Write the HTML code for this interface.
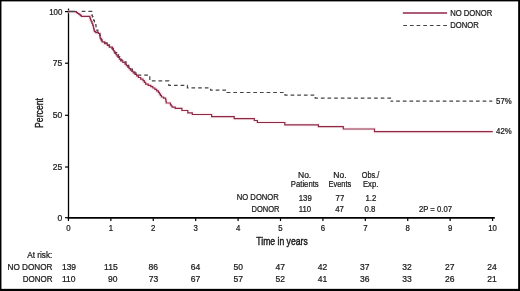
<!DOCTYPE html>
<html><head><meta charset="utf-8"><style>
html,body{margin:0;padding:0;background:#fff;}
svg{display:block;filter:blur(0.3px);}
text{font-family:"Liberation Sans",sans-serif;fill:#1a1a1a;stroke:#1a1a1a;stroke-width:0.24px;}
</style></head><body>
<svg width="520" height="291" viewBox="0 0 520 291">
<rect x="0" y="0" width="520" height="291" fill="#fff"/>
<line x1="68.5" y1="8.6" x2="68.5" y2="218.5" stroke="#000" stroke-width="1.3"/>
<line x1="67.7" y1="217.9" x2="494.8" y2="217.9" stroke="#000" stroke-width="1.6"/>
<line x1="65" y1="11.6" x2="68.3" y2="11.6" stroke="#000" stroke-width="1.2"/>
<line x1="65" y1="63.2" x2="68.3" y2="63.2" stroke="#000" stroke-width="1.2"/>
<line x1="65" y1="115.3" x2="68.3" y2="115.3" stroke="#000" stroke-width="1.2"/>
<line x1="65" y1="167.0" x2="68.3" y2="167.0" stroke="#000" stroke-width="1.2"/>
<line x1="65" y1="217.7" x2="68.3" y2="217.7" stroke="#000" stroke-width="1.2"/>
<line x1="68.45" y1="217.9" x2="68.45" y2="221" stroke="#000" stroke-width="1.2"/>
<line x1="110.86" y1="217.9" x2="110.86" y2="221" stroke="#000" stroke-width="1.2"/>
<line x1="153.27" y1="217.9" x2="153.27" y2="221" stroke="#000" stroke-width="1.2"/>
<line x1="195.68" y1="217.9" x2="195.68" y2="221" stroke="#000" stroke-width="1.2"/>
<line x1="238.09" y1="217.9" x2="238.09" y2="221" stroke="#000" stroke-width="1.2"/>
<line x1="280.50" y1="217.9" x2="280.50" y2="221" stroke="#000" stroke-width="1.2"/>
<line x1="322.91" y1="217.9" x2="322.91" y2="221" stroke="#000" stroke-width="1.2"/>
<line x1="365.32" y1="217.9" x2="365.32" y2="221" stroke="#000" stroke-width="1.2"/>
<line x1="407.73" y1="217.9" x2="407.73" y2="221" stroke="#000" stroke-width="1.2"/>
<line x1="450.14" y1="217.9" x2="450.14" y2="221" stroke="#000" stroke-width="1.2"/>
<line x1="492.55" y1="217.9" x2="492.55" y2="221" stroke="#000" stroke-width="1.2"/>
<path d="M68.00,11.60 H75.10 H76.40 V12.60 H77.70 V13.50 H79.00 V14.40 H80.20 V15.30 H81.30 V16.30 H89.30 H89.90 V18.15 H90.50 V20.00 H91.25 V21.70 H92.00 V23.40 H92.65 V25.20 H93.30 V27.00 H93.67 V28.53 H94.03 V30.07 H94.40 V31.60 H95.80 V32.70 H98.40 V33.50 H99.60 V34.50 H99.80 V35.77 H100.00 V37.03 H100.20 V38.30 H101.15 V40.10 H102.10 V41.90 H104.70 V43.70 H107.30 V45.50 H109.30 V47.10 H112.40 V49.10 H113.27 V50.50 H114.13 V51.90 H115.00 V53.30 H116.03 V54.67 H117.07 V56.03 H118.10 V57.40 H119.40 V59.15 H120.70 V60.90 H122.85 V62.50 H125.00 V64.10 H126.37 V65.63 H127.73 V67.17 H129.10 V68.70 H130.47 V70.07 H131.83 V71.43 H133.20 V72.80 H134.93 V74.37 H136.67 V75.93 H138.40 V77.50 H140.70 V79.05 H143.00 V80.60 H144.30 V82.40 H145.60 V84.20 H148.20 V85.45 H150.80 V86.70 H152.85 V88.00 H154.90 V89.30 H156.65 V90.85 H158.40 V92.40 H159.40 V93.93 H160.40 V95.47 H161.40 V97.00 H163.50 V98.20 H165.60 V99.40 H165.90 V101.20 H166.20 V103.00 H170.40 V104.80 H171.30 V106.00 H172.20 V107.20 H175.20 V108.40 H181.90 V110.50 H187.80 V112.90 H192.30 V114.50 H211.60 V116.70 H234.20 V118.60 H254.30 V120.50 H257.40 V122.50 H284.80 V124.90 H318.40 V126.60 H343.30 V129.00 H374.50 V131.70 H492.80" fill="none" stroke="#f8e4ea" stroke-width="3.4" opacity="0.6"/>
<path d="M81.70,11.40 H91.80 V15.20 H92.43 V16.90 H93.07 V18.60 H93.70 V20.30 H94.40 V21.87 H95.10 V23.43 H95.80 V25.00 H95.97 V26.70 H96.13 V28.40 H96.30 V30.10 H97.85 V31.75 H99.40 V33.40 H99.90 V35.50 H100.40 V37.60 H101.10 V39.30 H101.80 V41.00 H104.40 V42.90 H107.00 V44.80 H109.45 V46.55 H111.90 V48.30 H113.35 V50.45 H114.80 V52.60 H116.65 V54.65 H118.50 V56.70 H119.75 V58.45 H121.00 V60.20 H123.50 V61.90 H126.00 V63.60 H127.33 V65.40 H128.67 V67.20 H130.00 V69.00 H132.40 V71.07 H134.80 V73.13 H137.20 V75.20 H149.80 V80.90 H168.80 V85.40 H187.40 V87.80 H210.60 V90.20 H226.80 V92.50 H285.00 V95.10 H315.20 V98.10 H390.50 V101.20" fill="none" stroke="#444444" stroke-width="1.2" stroke-dasharray="3.7 2.95"/>
<path d="M390.5,101.2 H492.3" fill="none" stroke="#444444" stroke-width="1.2" stroke-dasharray="3.7 2.95" stroke-dashoffset="1.0"/>
<path d="M68.00,11.60 H75.10 H76.40 V12.60 H77.70 V13.50 H79.00 V14.40 H80.20 V15.30 H81.30 V16.30 H89.30 H89.90 V18.15 H90.50 V20.00 H91.25 V21.70 H92.00 V23.40 H92.65 V25.20 H93.30 V27.00 H93.67 V28.53 H94.03 V30.07 H94.40 V31.60 H95.80 V32.70 H98.40 V33.50 H99.60 V34.50 H99.80 V35.77 H100.00 V37.03 H100.20 V38.30 H101.15 V40.10 H102.10 V41.90 H104.70 V43.70 H107.30 V45.50 H109.30 V47.10 H112.40 V49.10 H113.27 V50.50 H114.13 V51.90 H115.00 V53.30 H116.03 V54.67 H117.07 V56.03 H118.10 V57.40 H119.40 V59.15 H120.70 V60.90 H122.85 V62.50 H125.00 V64.10 H126.37 V65.63 H127.73 V67.17 H129.10 V68.70 H130.47 V70.07 H131.83 V71.43 H133.20 V72.80 H134.93 V74.37 H136.67 V75.93 H138.40 V77.50 H140.70 V79.05 H143.00 V80.60 H144.30 V82.40 H145.60 V84.20 H148.20 V85.45 H150.80 V86.70 H152.85 V88.00 H154.90 V89.30 H156.65 V90.85 H158.40 V92.40 H159.40 V93.93 H160.40 V95.47 H161.40 V97.00 H163.50 V98.20 H165.60 V99.40 H165.90 V101.20 H166.20 V103.00 H170.40 V104.80 H171.30 V106.00 H172.20 V107.20 H175.20 V108.40 H181.90 V110.50 H187.80 V112.90 H192.30 V114.50 H211.60 V116.70 H234.20 V118.60 H254.30 V120.50 H257.40 V122.50 H284.80 V124.90 H318.40 V126.60 H343.30 V129.00 H374.50 V131.70 H492.80" fill="none" stroke="#8f2747" stroke-width="1.2"/>
<line x1="68.5" y1="11.4" x2="75.2" y2="11.4" stroke="#444444" stroke-width="1.3"/>
<line x1="402.8" y1="13.1" x2="447.1" y2="13.1" stroke="#8f2747" stroke-width="1.5"/>
<line x1="403.3" y1="25.5" x2="447" y2="25.5" stroke="#444444" stroke-width="1.2" stroke-dasharray="3.7 2.95"/>
<text transform="translate(62.3,14.6) scale(0.93,1)" font-size="8.5" text-anchor="end">100</text>
<text transform="translate(62.3,66.2) scale(1.0,1)" font-size="8.5" text-anchor="end">75</text>
<text transform="translate(62.3,118.3) scale(1.0,1)" font-size="8.5" text-anchor="end">50</text>
<text transform="translate(62.3,170.0) scale(1.0,1)" font-size="8.5" text-anchor="end">25</text>
<text transform="translate(62.3,220.7) scale(1.0,1)" font-size="8.5" text-anchor="end">0</text>
<text transform="translate(68.45,231.0) scale(0.92,1)" font-size="8.5" text-anchor="middle">0</text>
<text transform="translate(110.86,231.0) scale(0.92,1)" font-size="8.5" text-anchor="middle">1</text>
<text transform="translate(153.27,231.0) scale(0.92,1)" font-size="8.5" text-anchor="middle">2</text>
<text transform="translate(195.68,231.0) scale(0.92,1)" font-size="8.5" text-anchor="middle">3</text>
<text transform="translate(238.09,231.0) scale(0.92,1)" font-size="8.5" text-anchor="middle">4</text>
<text transform="translate(280.5,231.0) scale(0.92,1)" font-size="8.5" text-anchor="middle">5</text>
<text transform="translate(322.91,231.0) scale(0.92,1)" font-size="8.5" text-anchor="middle">6</text>
<text transform="translate(365.32,231.0) scale(0.92,1)" font-size="8.5" text-anchor="middle">7</text>
<text transform="translate(407.73,231.0) scale(0.92,1)" font-size="8.5" text-anchor="middle">8</text>
<text transform="translate(450.14,231.0) scale(0.92,1)" font-size="8.5" text-anchor="middle">9</text>
<text transform="translate(492.55,231.0) scale(0.92,1)" font-size="8.5" text-anchor="middle">10</text>
<text x="256.3" y="244.8" font-size="10.2" text-anchor="start" textLength="51.4" lengthAdjust="spacingAndGlyphs" style="stroke-width:0.42px">Time in years</text>
<text x="0" y="0" font-size="10.3" text-anchor="middle" transform="translate(42.7,113.0) rotate(-90)" textLength="29.8" lengthAdjust="spacingAndGlyphs" style="stroke-width:0.38px">Percent</text>
<text x="450.2" y="16.1" font-size="8.5" text-anchor="start" textLength="42.1" lengthAdjust="spacingAndGlyphs">NO DONOR</text>
<text x="450.2" y="27.9" font-size="8.5" text-anchor="start" textLength="28.5" lengthAdjust="spacingAndGlyphs">DONOR</text>
<text transform="translate(496.1,104.0) scale(0.92,1)" font-size="8.5" text-anchor="start">57%</text>
<text transform="translate(496.1,134.2) scale(0.92,1)" font-size="8.5" text-anchor="start">42%</text>
<text transform="translate(304.6,177.9) scale(1.0,1)" font-size="8.5" text-anchor="middle">No.</text>
<text x="290.8" y="186.9" font-size="8.5" text-anchor="start" textLength="27.9" lengthAdjust="spacingAndGlyphs">Patients</text>
<text transform="translate(339.9,177.9) scale(1.0,1)" font-size="8.5" text-anchor="middle">No.</text>
<text x="328.5" y="186.9" font-size="8.5" text-anchor="start" textLength="22.8" lengthAdjust="spacingAndGlyphs">Events</text>
<text x="361.7" y="177.9" font-size="8.5" text-anchor="start" textLength="17.5" lengthAdjust="spacingAndGlyphs">Obs./</text>
<text x="363.0" y="186.9" font-size="8.5" text-anchor="start" textLength="15.3" lengthAdjust="spacingAndGlyphs">Exp.</text>
<text x="236.8" y="200.2" font-size="8.5" text-anchor="start" textLength="42" lengthAdjust="spacingAndGlyphs">NO DONOR</text>
<text x="251.5" y="211.9" font-size="8.5" text-anchor="start" textLength="28" lengthAdjust="spacingAndGlyphs">DONOR</text>
<text transform="translate(298.7,200.5) scale(0.92,1)" font-size="8.5" text-anchor="start">139</text>
<text transform="translate(298.7,211.9) scale(0.92,1)" font-size="8.5" text-anchor="start">110</text>
<text transform="translate(335.6,200.5) scale(0.92,1)" font-size="8.5" text-anchor="start">77</text>
<text transform="translate(335.2,211.9) scale(0.92,1)" font-size="8.5" text-anchor="start">47</text>
<text transform="translate(365.4,200.5) scale(0.92,1)" font-size="8.5" text-anchor="start">1.2</text>
<text transform="translate(364.6,211.9) scale(0.92,1)" font-size="8.5" text-anchor="start">0.8</text>
<text x="418.9" y="212.4" font-size="8.5" text-anchor="start" textLength="33.1" lengthAdjust="spacingAndGlyphs">2P = 0.07</text>
<text x="27.2" y="257.5" font-size="8.5" text-anchor="start" textLength="25.2" lengthAdjust="spacingAndGlyphs">At risk:</text>
<text x="7.5" y="269.8" font-size="8.5" text-anchor="start" textLength="45" lengthAdjust="spacingAndGlyphs">NO DONOR</text>
<text x="22.8" y="281.8" font-size="8.5" text-anchor="start" textLength="29.7" lengthAdjust="spacingAndGlyphs">DONOR</text>
<text transform="translate(61.9,270.0) scale(1.0,1)" font-size="8.5" text-anchor="start">139</text>
<text transform="translate(104.1,270.0) scale(1.0,1)" font-size="8.5" text-anchor="start">115</text>
<text transform="translate(148.4,270.0) scale(1.0,1)" font-size="8.5" text-anchor="start">86</text>
<text transform="translate(190.8,270.0) scale(1.0,1)" font-size="8.5" text-anchor="start">64</text>
<text transform="translate(233.5,270.0) scale(1.0,1)" font-size="8.5" text-anchor="start">50</text>
<text transform="translate(275.4,270.0) scale(1.0,1)" font-size="8.5" text-anchor="start">47</text>
<text transform="translate(317.7,270.0) scale(1.0,1)" font-size="8.5" text-anchor="start">42</text>
<text transform="translate(360.0,270.0) scale(1.0,1)" font-size="8.5" text-anchor="start">37</text>
<text transform="translate(402.3,270.0) scale(1.0,1)" font-size="8.5" text-anchor="start">32</text>
<text transform="translate(445.0,270.0) scale(1.0,1)" font-size="8.5" text-anchor="start">27</text>
<text transform="translate(487.3,270.0) scale(1.0,1)" font-size="8.5" text-anchor="start">24</text>
<text transform="translate(61.9,282.1) scale(1.0,1)" font-size="8.5" text-anchor="start">110</text>
<text transform="translate(108.1,282.1) scale(1.0,1)" font-size="8.5" text-anchor="start">90</text>
<text transform="translate(148.8,282.1) scale(1.0,1)" font-size="8.5" text-anchor="start">73</text>
<text transform="translate(190.8,282.1) scale(1.0,1)" font-size="8.5" text-anchor="start">67</text>
<text transform="translate(233.5,282.1) scale(1.0,1)" font-size="8.5" text-anchor="start">57</text>
<text transform="translate(275.4,282.1) scale(1.0,1)" font-size="8.5" text-anchor="start">52</text>
<text transform="translate(317.7,282.1) scale(1.0,1)" font-size="8.5" text-anchor="start">41</text>
<text transform="translate(360.0,282.1) scale(1.0,1)" font-size="8.5" text-anchor="start">36</text>
<text transform="translate(402.3,282.1) scale(1.0,1)" font-size="8.5" text-anchor="start">33</text>
<text transform="translate(445.0,282.1) scale(1.0,1)" font-size="8.5" text-anchor="start">26</text>
<text transform="translate(487.3,282.1) scale(1.0,1)" font-size="8.5" text-anchor="start">21</text>
<rect x="0" y="0" width="1.45" height="291" fill="#000"/>
<rect x="0" y="0" width="520" height="1.4" fill="#000"/>
<rect x="518.15" y="0" width="1.85" height="291" fill="#000"/>
<rect x="0" y="288.85" width="520" height="2.15" fill="#000"/>
</svg>
</body></html>
